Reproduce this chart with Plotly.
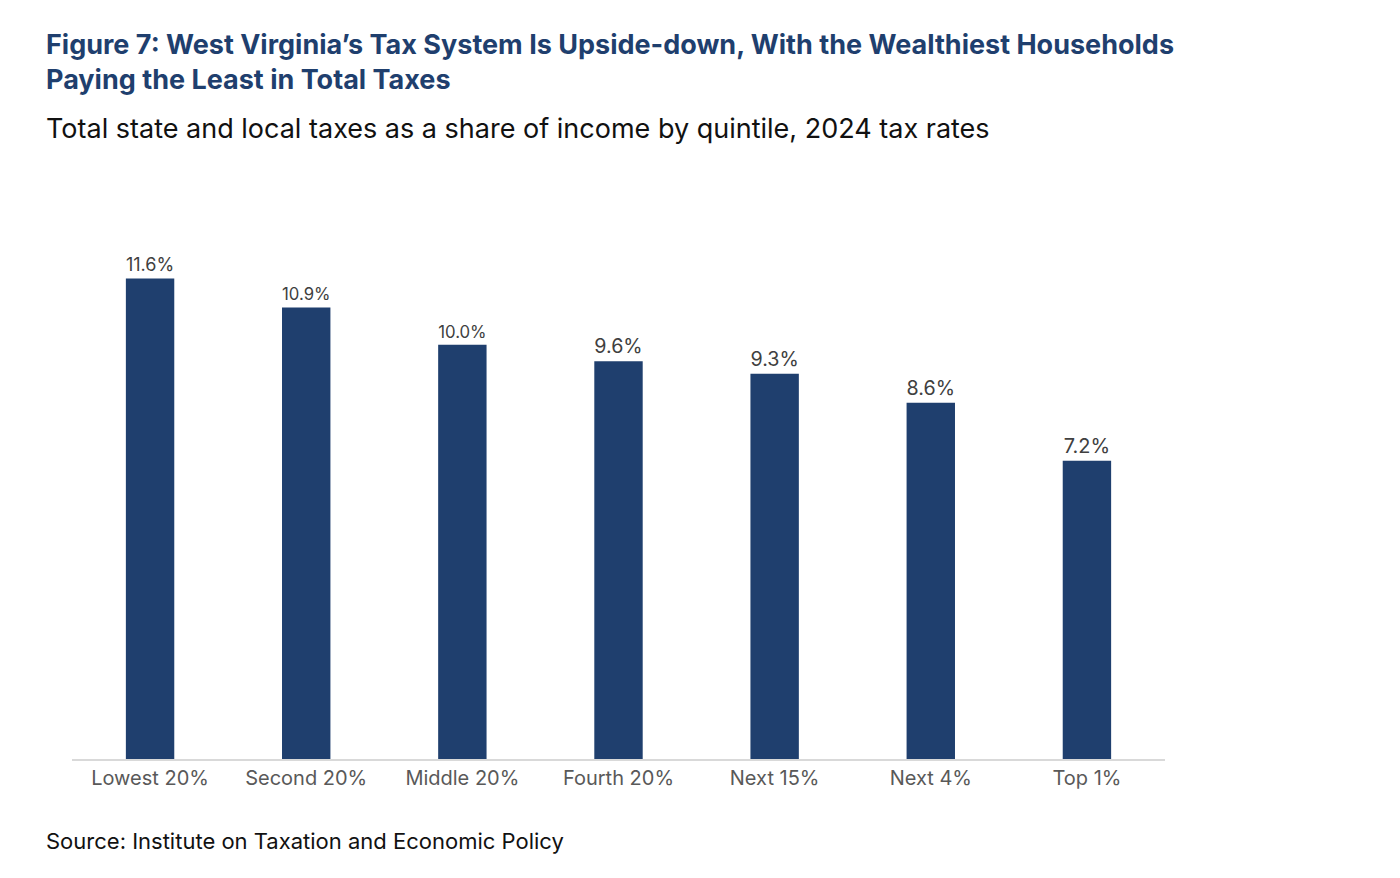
import plotly.graph_objects as go

groups = ["Lowest 20%", "Second 20%", "Middle 20%", "Fourth 20%", "Next 15%", "Next 4%", "Top 1%"]
rates = [11.6, 10.9, 10.0, 9.6, 9.3, 8.6, 7.2]
labels = ["11.6%", "10.9%", "10.0%", "9.6%", "9.3%", "8.6%", "7.2%"]

W, H = 1400, 878
L, R, T, B = 64, 243, 171, 127


def px(x, y):
    # pixel position (from top-left) to paper coordinates
    return (x - L) / (W - L - R), (H - B - y) / (H - T - B)


fig = go.Figure(go.Bar(
    x=groups, y=rates, text=labels, textposition="outside", cliponaxis=False,
    marker=dict(color="#1F3F6E", line=dict(width=0)),
    textfont=dict(size=20, color="#404040"),
    width=0.31,
))

annos = [
    ("<b>Figure 7: West Virginia’s Tax System Is Upside-down, With the Wealthiest Households<br>Paying the Least in Total Taxes</b>",
     36, 18, 27, "#1F3F6E"),
    ("Total state and local taxes as a share of income by quintile, 2024 tax rates", 36, 102, 27, "#111111"),
    ("Source: Institute on Taxation and Economic Policy", 36, 818, 22, "#111111"),
]
annotations = []
for text, x, y, size, color in annos:
    ax, ay = px(x, y)
    annotations.append(dict(text=text, x=ax, y=ay, xref="paper", yref="paper", showarrow=False,
                            align="left", xanchor="left", yanchor="top",
                            font=dict(size=size, color=color)))

fig.update_layout(
    width=W, height=H,
    margin=dict(l=L, r=R, t=T, b=B),
    paper_bgcolor="white", plot_bgcolor="white",
    font=dict(family="Inter, Open Sans, sans-serif"),
    showlegend=False,
    xaxis=dict(showline=True, linecolor="#D9D9D9", linewidth=1.5,
               tickfont=dict(size=20, color="#595959"), ticks=""),
    yaxis=dict(range=[0, 14], visible=False),
    annotations=annotations,
)

fig.write_html("out.html")
